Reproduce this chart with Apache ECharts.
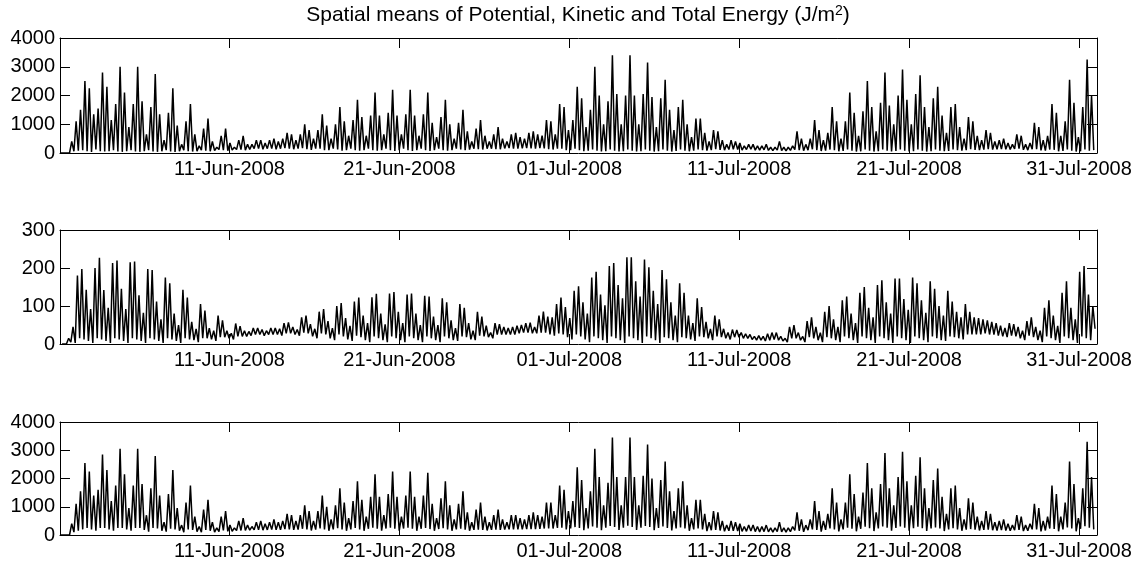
<!DOCTYPE html>
<html>
<head>
<meta charset="utf-8">
<title>Spatial means of energy</title>
<script src="https://cdn.jsdelivr.net/npm/echarts@6/dist/echarts.min.js"></script>
<style>
  html, body { margin: 0; padding: 0; background: #fff; }
  #chart { width: 1145px; height: 565px; }
</style>
</head>
<body>
<div id="chart"></div>
<script>
// one peak every 6.21 h (half an M2 cycle), a trough between each pair of peaks
const PERIOD = 22356000
const potStart = Date.UTC(2008, 5, 1, 4, 39)
const kinStart = Date.UTC(2008, 5, 1, 6, 30)

const xMin = Date.UTC(2008, 5, 1, 0, 30)
const xMax = Date.UTC(2008, 7, 1, 1, 30)
const tickDates = [[2008, 5, 11], [2008, 5, 21], [2008, 6, 1], [2008, 6, 11], [2008, 6, 21], [2008, 6, 31]]
const monthNames = ['Jan', 'Feb', 'Mar', 'Apr', 'May', 'Jun', 'Jul', 'Aug', 'Sep', 'Oct', 'Nov', 'Dec']

// potential energy (J/m2)
const potPeaks = [
  0, 0,
  400, 1100, 1500, 2500, 2250, 1350, 1550, 2800, 2300, 1150,
  1700, 3000, 2100, 900, 1700, 3000, 1800, 650, 1600, 2750,
  1350, 450, 1400, 2250, 950, 300, 1100, 1700, 650, 250,
  850, 1200, 400, 200, 600, 850, 350, 200, 450, 600,
  300, 300, 450, 450, 350, 450, 500, 400, 500, 700,
  650, 450, 650, 1000, 800, 500, 800, 1350, 950, 500,
  1000, 1600, 1100, 600, 1150, 1850, 1250, 600, 1300, 2100,
  1300, 650, 1400, 2200, 1300, 650, 1350, 2200, 1300, 600,
  1350, 2100, 1050, 550, 1250, 1850, 1000, 500, 1050, 1500,
  750, 400, 850, 1150, 600, 400, 650, 900, 500, 400,
  650, 700, 550, 500, 700, 750, 650, 600, 1150, 1100,
  650, 1700, 1600, 800, 1150, 2300, 1900, 900, 1500, 3000,
  2000, 1000, 1800, 3400, 2050, 1000, 2000, 3400, 2000, 1000,
  2050, 3150, 1950, 900, 1900, 2550, 1500, 800, 1600, 1850,
  1000, 550, 1200, 1200, 700, 400, 800, 750, 450, 300,
  450, 400, 350, 250, 300, 300, 250, 250, 300, 200,
  200, 400, 200, 200, 250, 750, 500, 300, 500, 1150,
  800, 450, 700, 1600, 1100, 500, 1100, 2100, 1400, 600,
  1450, 2500, 1600, 750, 1750, 2800, 1650, 1000, 2000, 2900,
  1850, 1000, 2050, 2700, 1600, 900, 1900, 2300, 1300, 700,
  1600, 1700, 900, 500, 1250, 1100, 600, 450, 800, 700,
  400, 450, 500, 350, 300, 650, 600, 300, 350, 1050,
  900, 450, 600, 1700, 1400, 600, 1100, 2550, 1750, 550,
  1600, 3250, 2000
]
const potTroughs = [
  0, 0, 0,
  60, 80, 100, 60, 40, 120, 60, 50, 60, 100,
  50, 40, 60, 100, 50, 40, 60, 100, 50, 40,
  60, 100, 50, 40, 60, 100, 60, 50, 60, 100,
  80, 60, 80, 120, 100, 80, 100, 120, 120, 100,
  120, 150, 150, 130, 150, 150, 130, 150, 170, 150,
  130, 150, 170, 130, 110, 150, 150, 100, 100, 150,
  120, 80, 100, 150, 100, 80, 100, 150, 100, 80,
  100, 150, 100, 70, 100, 150, 100, 70, 100, 150,
  100, 70, 100, 150, 100, 80, 100, 150, 120, 100,
  120, 150, 130, 120, 150, 150, 130, 130, 160, 170,
  150, 150, 160, 170, 160, 150, 170, 160, 130, 120,
  150, 150, 100, 100, 150, 100, 60, 80, 120, 80,
  50, 60, 120, 80, 50, 60, 120, 80, 50, 60,
  120, 80, 50, 60, 120, 80, 50, 70, 120, 80,
  60, 80, 120, 100, 80, 100, 130, 110, 100, 120,
  130, 120, 100, 120, 130, 100, 100, 110, 90, 80,
  100, 80, 70, 90, 120, 100, 80, 100, 130, 100,
  70, 80, 120, 100, 60, 70, 120, 80, 50, 60,
  120, 80, 50, 60, 120, 80, 50, 70, 120, 80,
  50, 60, 120, 80, 50, 60, 120, 80, 60, 70,
  120, 100, 80, 100, 130, 110, 100, 120, 130, 120,
  130, 140, 130, 120, 140, 150, 110, 100, 130, 130,
  90, 80, 120, 110, 60, 70, 120, 80, 50, 60, 120, 80,
  100
]

// kinetic energy (J/m2)
const kinPeaks = [
  0, 15,
  45, 180, 197, 143, 92, 200, 227, 142, 95, 213,
  220, 145, 92, 215, 217, 128, 82, 197, 195, 112,
  65, 175, 160, 80, 50, 143, 122, 58, 40, 105,
  88, 42, 35, 75, 62, 35, 28, 54, 47, 35,
  33, 42, 42, 38, 35, 42, 42, 40, 55, 57,
  45, 38, 70, 75, 52, 40, 85, 92, 60, 42,
  100, 108, 68, 48, 112, 122, 75, 55, 123, 132,
  80, 52, 133, 137, 85, 55, 130, 133, 80, 50,
  127, 125, 72, 50, 120, 110, 62, 42, 105, 95,
  55, 35, 85, 72, 48, 30, 55, 52, 45, 42,
  45, 48, 50, 55, 56, 45, 75, 85, 72, 70,
  105, 122, 97, 68, 140, 152, 110, 80, 175, 190,
  130, 102, 205, 213, 155, 120, 228, 228, 165, 125,
  222, 202, 140, 105, 195, 170, 110, 75, 160, 135,
  75, 55, 120, 97, 58, 40, 75, 65, 40, 30,
  38, 37, 30, 27, 25, 20, 22, 20, 27, 30,
  30, 20, 15, 45, 50, 30, 20, 60, 70, 45,
  30, 85, 100, 65, 45, 115, 125, 80, 55, 135,
  150, 95, 70, 155, 168, 110, 80, 172, 172, 118,
  90, 175, 160, 115, 82, 165, 145, 100, 75, 140,
  112, 85, 70, 105, 85, 70, 68, 65, 62, 58,
  55, 48, 42, 55, 52, 45, 35, 60, 70, 45,
  35, 95, 115, 75, 48, 135, 165, 95, 65, 190,
  205, 130, 100
]
const kinTroughs = [
  0, 0, 5,
  3, 15, 12, 8, 3, 15, 12, 8, 3, 15,
  12, 8, 3, 15, 12, 8, 3, 15, 12, 8,
  3, 15, 12, 8, 3, 15, 12, 10, 5, 15,
  15, 12, 8, 18, 18, 15, 12, 20, 20, 20,
  22, 25, 25, 22, 25, 25, 25, 22, 28, 28,
  25, 22, 30, 28, 20, 15, 28, 25, 15, 10,
  25, 20, 12, 8, 22, 18, 10, 5, 20, 15,
  10, 5, 20, 15, 10, 5, 20, 15, 10, 5,
  20, 15, 10, 5, 20, 15, 10, 8, 20, 18,
  12, 10, 22, 20, 18, 15, 25, 25, 25, 25,
  25, 28, 30, 30, 28, 28, 30, 30, 25, 22,
  28, 25, 18, 12, 25, 20, 12, 5, 20, 15,
  10, 3, 20, 15, 10, 3, 20, 15, 10, 3,
  20, 15, 10, 3, 18, 15, 10, 5, 18, 15,
  12, 8, 20, 18, 15, 10, 20, 18, 15, 12,
  18, 18, 15, 15, 12, 10, 10, 8, 10, 12,
  10, 8, 5, 15, 15, 10, 5, 18, 15, 10,
  5, 18, 15, 10, 5, 20, 15, 10, 3, 20,
  15, 10, 3, 20, 15, 10, 3, 20, 15, 10,
  3, 20, 15, 10, 5, 20, 15, 10, 8, 20,
  18, 15, 12, 25, 25, 25, 25, 28, 25, 25,
  22, 20, 18, 22, 20, 15, 10, 22, 18, 10,
  5, 20, 15, 10, 3, 20, 15, 10, 3, 20, 15, 10,
  40
]

// total energy (J/m2)
const totPeaks = [
  0, 0,
  400, 1100, 1550, 2550, 2250, 1400, 1600, 2850, 2300, 1200,
  1750, 3050, 2150, 950, 1750, 3050, 1800, 700, 1650, 2800,
  1400, 450, 1450, 2300, 950, 350, 1150, 1750, 650, 300,
  900, 1250, 450, 250, 650, 850, 350, 250, 500, 600,
  350, 300, 450, 500, 400, 450, 550, 450, 500, 750,
  700, 500, 700, 1050, 850, 500, 850, 1400, 1000, 550,
  1050, 1650, 1150, 600, 1200, 1900, 1250, 650, 1350, 2150,
  1350, 700, 1450, 2250, 1350, 650, 1400, 2250, 1350, 650,
  1400, 2200, 1100, 600, 1300, 1900, 1050, 550, 1100, 1550,
  800, 450, 900, 1150, 650, 450, 700, 900, 550, 450,
  700, 700, 600, 550, 700, 800, 700, 650, 1150, 1150,
  700, 1750, 1600, 850, 1200, 2400, 1950, 950, 1550, 3050,
  2050, 1050, 1850, 3450, 2050, 1050, 2050, 3450, 2050, 1050,
  2100, 3200, 2000, 950, 1950, 2600, 1550, 850, 1650, 1900,
  1050, 600, 1250, 1250, 750, 450, 850, 800, 500, 350,
  500, 450, 400, 300, 350, 350, 300, 300, 350, 250,
  250, 450, 250, 250, 300, 800, 550, 350, 550, 1200,
  850, 500, 750, 1650, 1150, 550, 1150, 2150, 1450, 650,
  1500, 2550, 1650, 800, 1800, 2900, 1650, 1050, 2050, 2950,
  1900, 1050, 2100, 2750, 1650, 950, 1950, 2350, 1350, 750,
  1650, 1750, 950, 550, 1300, 1150, 650, 500, 850, 750,
  450, 500, 550, 400, 350, 700, 650, 350, 400, 1100,
  950, 500, 650, 1750, 1450, 650, 1150, 2600, 1800, 600,
  1650, 3300, 2050
]
const totTroughs = [
  0, 0, 0,
  100, 150, 200, 250, 200, 150, 250, 250, 200, 150,
  250, 250, 200, 150, 250, 250, 180, 120, 250, 230,
  150, 120, 220, 200, 150, 100, 200, 180, 120, 100,
  180, 150, 100, 120, 160, 130, 130, 160, 160, 160,
  170, 180, 180, 170, 180, 190, 180, 180, 210, 200,
  180, 190, 220, 200, 160, 190, 230, 200, 150, 200,
  240, 200, 150, 200, 250, 200, 150, 220, 260, 220,
  150, 230, 260, 220, 150, 230, 260, 220, 150, 220,
  250, 210, 150, 210, 240, 200, 150, 200, 220, 190,
  150, 180, 190, 180, 160, 180, 190, 180, 190, 200,
  200, 200, 200, 210, 210, 210, 220, 230, 230, 230,
  250, 260, 200, 230, 280, 250, 170, 230, 300, 260,
  170, 260, 320, 280, 180, 260, 330, 280, 180, 260,
  320, 280, 170, 250, 300, 250, 160, 230, 270, 230,
  150, 200, 230, 200, 140, 170, 180, 160, 130, 150,
  150, 140, 130, 130, 140, 120, 110, 120, 110, 100,
  120, 110, 100, 120, 160, 150, 110, 170, 200, 180,
  120, 180, 230, 200, 130, 200, 260, 220, 130, 220,
  290, 240, 140, 230, 300, 260, 150, 250, 300, 260,
  150, 240, 290, 240, 140, 230, 270, 230, 140, 200,
  240, 200, 150, 190, 210, 190, 160, 180, 190, 170,
  160, 170, 160, 150, 170, 180, 140, 150, 200, 200,
  130, 160, 230, 210, 130, 200, 270, 230, 130, 220, 310, 260,
  200
]

const buildLine = (peaks, troughs, start) => {
  const half = PERIOD / 2
  const pts = []
  peaks.forEach((p, i) => {
    const t = start + i * PERIOD
    if (troughs[i] !== undefined) pts.push([t - half, troughs[i]])
    pts.push([t, p])
  })
  const last = troughs[peaks.length]
  if (last !== undefined) pts.push([start + peaks.length * PERIOD - half, last])
  return pts
}

const FONT = '"Liberation Sans", Arial, Helvetica, sans-serif'
const tickValues = tickDates.map(d => Date.UTC(d[0], d[1], d[2]))
const fmtDate = v => {
  const d = new Date(v)
  const dd = String(d.getUTCDate()).padStart(2, '0')
  return dd + '-' + monthNames[d.getUTCMonth()] + '-' + d.getUTCFullYear()
}

const panels = [
  { top: 38, height: 115, max: 4000, interval: 1000, data: buildLine(potPeaks, potTroughs, potStart) },
  { top: 230, height: 114, max: 300, interval: 100, data: buildLine(kinPeaks, kinTroughs, kinStart) },
  { top: 422, height: 113, max: 4000, interval: 1000, data: buildLine(totPeaks, totTroughs, potStart) }
]

const chart = echarts.init(document.getElementById('chart'), null, { renderer: 'canvas' })

const axisLine = { show: true, onZero: false, lineStyle: { color: '#000', width: 1 } }
const grid = []
const xAxis = []
const yAxis = []
const series = []

panels.forEach((p, i) => {
  grid.push({ left: 60, width: 1037, top: p.top, height: p.height, containLabel: false })
  // bottom axis with date labels
  xAxis.push({
    type: 'value', gridIndex: i, min: xMin, max: xMax, position: 'bottom',
    axisLine,
    axisTick: { show: true, inside: true, length: 10, customValues: tickValues, lineStyle: { color: '#000' } },
    axisLabel: { show: true, customValues: tickValues, formatter: fmtDate, color: '#000', fontSize: 20, fontFamily: FONT, margin: 6 },
    splitLine: { show: false }
  })
  // top edge of the box
  xAxis.push({
    type: 'value', gridIndex: i, min: xMin, max: xMax, position: 'top',
    axisLine,
    axisTick: { show: true, inside: true, length: 10, customValues: tickValues, lineStyle: { color: '#000' } },
    axisLabel: { show: false },
    splitLine: { show: false }
  })
  yAxis.push({
    type: 'value', gridIndex: i, min: 0, max: p.max, interval: p.interval, position: 'left',
    axisLine,
    axisTick: { show: true, inside: true, length: 10, lineStyle: { color: '#000' } },
    axisLabel: { color: '#000', fontSize: 20, fontFamily: FONT, margin: 5, formatter: v => String(v) },
    splitLine: { show: false }
  })
  yAxis.push({
    type: 'value', gridIndex: i, min: 0, max: p.max, interval: p.interval, position: 'right',
    axisLine,
    axisTick: { show: true, inside: true, length: 10, lineStyle: { color: '#000' } },
    axisLabel: { show: false },
    splitLine: { show: false }
  })
  series.push({
    type: 'line',
    xAxisIndex: i * 2,
    yAxisIndex: i * 2,
    data: p.data,
    showSymbol: false,
    symbol: 'none',
    lineStyle: { color: '#000', width: 1.5 },
    z: 1
  })
})

const option = {
  backgroundColor: '#fff',
  animation: false,
  title: {
    text: 'Spatial means of Potential, Kinetic and Total Energy (J/m{sup|2})',
    left: 578,
    textAlign: 'center',
    top: 4,
    padding: 0,
    textStyle: {
      color: '#000',
      fontSize: 21,
      fontWeight: 'normal',
      fontFamily: FONT,
      rich: {
        sup: { fontSize: 14, fontFamily: FONT, color: '#000', verticalAlign: 'top', padding: [0, 0, 8, 0] }
      }
    }
  },
  grid,
  xAxis,
  yAxis,
  series
}

chart.setOption(option)
</script>
</body>
</html>
